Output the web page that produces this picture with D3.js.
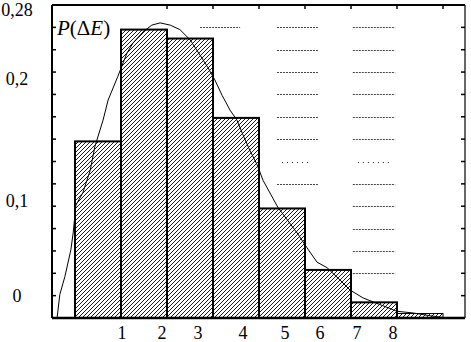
<!DOCTYPE html>
<html>
<head>
<meta charset="utf-8">
<script src="https://cdn.jsdelivr.net/npm/d3@7"></script>
<style>
  body { margin: 0; background: #fff; }
  svg { display: block; }
  text { font-family: "Times New Roman", "Liberation Serif", "DejaVu Serif", serif; fill: #000; }
</style>
</head>
<body>
<div id="chart"></div>
<script>
// histogram bins (left edge of each unit-wide bin) and probabilities
var binStart = [0, 1, 2, 3, 4, 5, 6, 7];
var binProb  = [0.158, 0.258, 0.250, 0.179, 0.098, 0.043, 0.014, 0.004];

// fitted distribution curve
var curveE = [-0.39, -0.33, -0.22, -0.09, -0.04, 0.02, 0.17, 0.33, 0.43, 0.61, 0.72, 0.93,
              1.13, 1.26, 1.48, 1.67, 1.85, 2.07, 2.28, 2.50, 2.72, 2.89, 3.04, 3.20, 3.37,
              3.52, 3.65, 3.80, 3.96, 4.09, 4.41, 4.83, 5.04, 5.26, 5.48, 5.76, 5.98, 6.26,
              6.63, 7.00, 7.35, 7.72, 8.09];
var curveP = [0, 0.021, 0.037, 0.061, 0.076, 0.101, 0.112, 0.132, 0.153, 0.177, 0.195, 0.216,
              0.237, 0.246, 0.256, 0.262, 0.264, 0.262, 0.258, 0.249, 0.235, 0.224, 0.213, 0.199, 0.186,
              0.177, 0.164, 0.150, 0.137, 0.123, 0.099, 0.076, 0.063, 0.050, 0.045, 0.034, 0.025, 0.018,
              0.012, 0.006, 0.0045, 0.002, 0];

// axis labels
var xTickLabels = ["1", "2", "3", "4", "5", "6", "7", "8"];
var yTickValues = [0, 0.1, 0.2, 0.28];
var yTickLabels = ["0", "0,1", "0,2", "0,28"];

var w = 471, h = 342;
var serif = "'Times New Roman', 'Liberation Serif', 'DejaVu Serif', serif";

var svg = d3.select("#chart").append("svg")
            .attr("width", w)
            .attr("height", h);

var x = d3.scaleLinear().domain([-0.5, 8.5]).range([52, 466]);
var y = d3.scaleLinear().domain([0, 0.28]).range([318, 5]);

// labels in the original sit a bit off their ticks
var xLabelPos = d3.scaleLinear().domain([1, 2, 3, 4, 5, 6, 7, 8])
                  .range([122, 162, 198, 243, 285, 320, 357, 393]);
var yLabelPos = d3.scaleLinear().domain(yTickValues).range([302, 207, 85, 16]);

// hatch pattern
var defs = svg.append("defs");
var pat = defs.append("pattern")
              .attr("id", "hatch")
              .attr("patternUnits", "userSpaceOnUse")
              .attr("width", 4)
              .attr("height", 4);
pat.append("path")
   .attr("d", "M-1,1 l2,-2 M0,4 l4,-4 M3,5 l2,-2")
   .attr("stroke", "#000")
   .attr("stroke-width", 0.9);

// dotted rows in the upper right (remains of a grid)
var minorTicks = d3.range(1, 14).map(function(i) { return i * 0.02; });
var dotRows = [
  { from: 2.72, to: 3.59, vals: [0.26] },
  { from: 4.39, to: 5.28, vals: [0.26, 0.24, 0.22, 0.20, 0.18, 0.16, 0.12] },
  { from: 6.04, to: 6.96, vals: [0.26, 0.24, 0.22, 0.20, 0.18, 0.16, 0.12, 0.10, 0.08, 0.06, 0.04] }
];
var sparseRows = [
  { from: 4.5, to: 5.15, vals: [0.14] },
  { from: 6.15, to: 6.85, vals: [0.14] }
];

dotRows.forEach(function(r) {
  svg.selectAll(null)
     .data(r.vals)
     .enter()
     .append("line")
     .attr("x1", x(r.from)).attr("x2", x(r.to))
     .attr("y1", function(d) { return Math.round(y(d)) + 0.5; })
     .attr("y2", function(d) { return Math.round(y(d)) + 0.5; })
     .attr("stroke", "#444")
     .attr("stroke-dasharray", "2,1");
});
sparseRows.forEach(function(r) {
  svg.selectAll(null)
     .data(r.vals)
     .enter()
     .append("line")
     .attr("x1", x(r.from)).attr("x2", x(r.to))
     .attr("y1", function(d) { return Math.round(y(d)) + 0.5; })
     .attr("y2", function(d) { return Math.round(y(d)) + 0.5; })
     .attr("stroke", "#222")
     .attr("stroke-dasharray", "1,4");
});

// bars
svg.selectAll("rect.bar")
   .data(binStart)
   .enter()
   .append("rect")
   .attr("class", "bar")
   .attr("x", function(d) { return x(d); })
   .attr("width", function(d) { return x(d + 1) - x(d); })
   .attr("y", function(d, i) { return y(binProb[i]); })
   .attr("height", function(d, i) { return y(0) - y(binProb[i]); })
   .attr("fill", "url(#hatch)")
   .attr("stroke", "#000")
   .attr("stroke-width", function(d, i) { return binProb[i] < 0.01 ? 1 : 2; });

// curve
var line = d3.line()
             .x(function(d) { return x(d[0]); })
             .y(function(d) { return y(d[1]); });
svg.append("path")
   .datum(curveE.map(function(e, i) { return [e, curveP[i]]; }))
   .attr("d", line)
   .attr("fill", "none")
   .attr("stroke", "#000")
   .attr("stroke-width", 1);

// frame
var x0 = x.range()[0], x1 = x.range()[1] - 1;
var y0 = y.range()[0], y1 = y.range()[1];
svg.append("line").attr("x1", x0).attr("x2", x1).attr("y1", y0).attr("y2", y0)
   .attr("stroke", "#000").attr("stroke-width", 2.5);
svg.append("line").attr("x1", x0).attr("x2", x1).attr("y1", y1).attr("y2", y1)
   .attr("stroke", "#000").attr("stroke-width", 2);
svg.append("line").attr("x1", x0).attr("x2", x0).attr("y1", y1).attr("y2", y0)
   .attr("stroke", "#000").attr("stroke-width", 2);
svg.append("line").attr("x1", x1).attr("x2", x1).attr("y1", y1).attr("y2", y0)
   .attr("stroke", "#000").attr("stroke-width", 1.2);

// minor ticks, left and right, pointing in
svg.selectAll("line.tl")
   .data(minorTicks)
   .enter()
   .append("line")
   .attr("x1", x0).attr("x2", x0 + 4)
   .attr("y1", function(d) { return y(d); })
   .attr("y2", function(d) { return y(d); })
   .attr("stroke", "#000").attr("stroke-width", 1.5);
svg.selectAll("line.tr")
   .data(minorTicks)
   .enter()
   .append("line")
   .attr("x1", x1).attr("x2", x1 - 4)
   .attr("y1", function(d) { return y(d); })
   .attr("y2", function(d) { return y(d); })
   .attr("stroke", "#000").attr("stroke-width", 1.5);
svg.selectAll("line.tt")
   .data([2, 3, 4, 5, 6, 7, 8])
   .enter()
   .append("line")
   .attr("x1", function(d) { return x(d); })
   .attr("x2", function(d) { return x(d); })
   .attr("y1", y1).attr("y2", y1 + 4)
   .attr("stroke", "#000").attr("stroke-width", 1.5);

// tick labels
svg.selectAll("text.xl")
   .data(xTickLabels)
   .enter()
   .append("text")
   .attr("x", function(d, i) { return xLabelPos(i + 1); })
   .attr("y", 339)
   .attr("text-anchor", "middle")
   .attr("font-family", serif)
   .attr("font-size", "18px")
   .text(function(d) { return d; });

svg.selectAll("text.yl")
   .data(yTickLabels)
   .enter()
   .append("text")
   .attr("x", 17)
   .attr("y", function(d, i) { return yLabelPos(yTickValues[i]); })
   .attr("text-anchor", "middle")
   .attr("font-family", serif)
   .attr("font-size", "18px")
   .text(function(d) { return d; });

// axis title
var title = svg.append("text")
               .attr("x", 57)
               .attr("y", 35)
               .attr("font-family", serif)
               .attr("font-size", "21px");
title.append("tspan").attr("font-style", "italic").text("P");
title.append("tspan").text("(\u0394");
title.append("tspan").attr("font-style", "italic").text("E");
title.append("tspan").text(")");
</script>
</body>
</html>
